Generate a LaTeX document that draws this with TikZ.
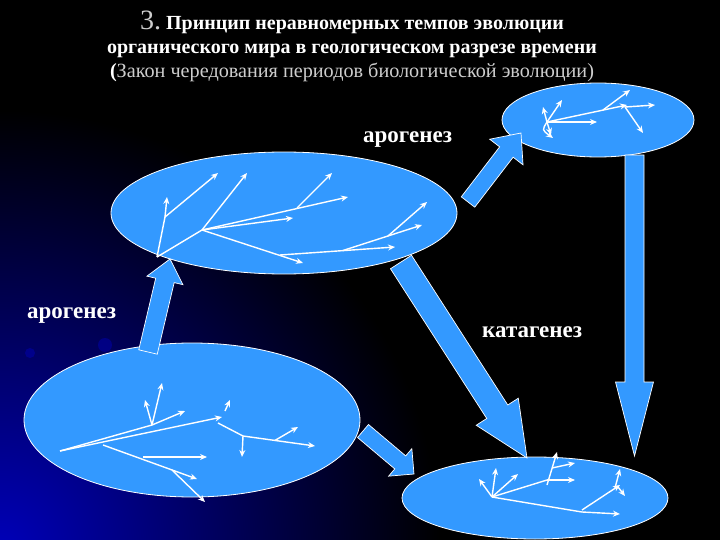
\documentclass[tikz,border=0pt]{standalone}
\usepackage{fontspec}
\setmainfont{Liberation Serif}
\usetikzlibrary{calc,arrows.meta,shapes.geometric}
\definecolor{ellblue}{RGB}{51,153,255}
\definecolor{glowblue}{RGB}{0,0,185}
\definecolor{txtgray}{RGB}{205,205,205}
\newcommand\blockarr[5]{% start, end, shaft half width, head half width, head length
  \coordinate (H) at ($(#2)!#5!(#1)$);
  \draw[bigarrow] ($(#1)!#3!90:(#2)$) -- ($(H)!#3!90:(#2)$) -- ($(H)!#4!90:(#2)$) -- (#2)
     -- ($(H)!#4!-90:(#2)$) -- ($(H)!#3!-90:(#2)$) -- ($(#1)!#3!-90:(#2)$) -- cycle;
}
\begin{document}
\begin{tikzpicture}[x=1pt,y=-1pt,
  ell/.style={ellipse, draw=white, line width=0.8pt, fill=ellblue, inner sep=0pt},
  bigarrow/.style={fill=ellblue, draw=white, line width=0.7pt, line join=miter},
  sm/.style={white, line width=1.4pt, -{Stealth[length=7pt,width=6pt]}},
  ln/.style={white, line width=1.4pt},
  lbl/.style={text=white, font=\fontsize{23}{25}\selectfont\bfseries, anchor=base west, inner sep=0pt}]
\fill[black] (0,0) rectangle (720,540);
\useasboundingbox (0,0) rectangle (720,540);
\begin{scope}
  \clip (0,0) rectangle (720,540);
  \shade[inner color=glowblue, outer color=black] (0,550) circle (440);
  \fill[glowblue, opacity=0.45] (30,353) circle (5);
  \fill[glowblue, opacity=0.45] (105,345) circle (7);
\end{scope}

% title
\node[anchor=base, text=white, inner sep=0pt] (t1) at (352,30)
  {{\color{txtgray}\fontsize{28}{30}\selectfont 3.}\fontsize{20}{22}\selectfont\bfseries\ Принцип неравномерных темпов эволюции};
\node[anchor=base, text=white, inner sep=0pt, font=\fontsize{20}{22}\selectfont\bfseries] (t2) at (352,54)
  {органического мира в геологическом разрезе времени};
\node[anchor=base, text=txtgray, inner sep=0pt, font=\fontsize{20.2}{22}\selectfont] (t3) at (352,78)
  {{\color{white}\bfseries(}Закон чередования периодов биологической эволюции)};

% ellipses
\node[ell, minimum width=192pt, minimum height=74pt] (e1) at (598,120) {};
\node[ell, minimum width=346pt, minimum height=122pt] (e2) at (284,213) {};
\node[ell, minimum width=336pt, minimum height=154pt] (e3) at (192,420) {};
\node[ell, minimum width=266pt, minimum height=82pt] (e4) at (535,498) {};

% labels
\node[lbl] (l1) at (363,143) {арогенез};
\node[lbl] (l2) at (27,318) {арогенез};
\node[lbl] (l3) at (482,337) {катагенез};

% big arrows
\coordinate (aS) at (148,352); \coordinate (aE) at (170,259);
\coordinate (bS) at (468,202); \coordinate (bE) at (521,133);
\coordinate (cS) at (401,262); \coordinate (cE) at (527,458);
\coordinate (dS) at (634.5,155); \coordinate (dE) at (634.5,456);
\coordinate (fS) at (363,431); \coordinate (fE) at (414,474);
\blockarr{aS}{aE}{9.5pt}{18.5pt}{22pt}
\blockarr{bS}{bE}{8.5pt}{21pt}{24pt}
\blockarr{cS}{cE}{12.5pt}{25pt}{55pt}
\blockarr{dS}{dE}{9.5pt}{19pt}{74pt}
\blockarr{fS}{fE}{8.5pt}{18pt}{18pt}

% small arrows: top-right ellipse
\draw[sm] (547,122) -- (597,122);
\draw[sm] (547,122) -- (627,105);
\draw[sm] (625,107) -- (655,105);
\draw[sm] (625,107) -- (643,133);
\draw[sm] (603,110) -- (630,90);
\draw[sm] (547,122) -- (562,100);
\draw[sm] (547,122) -- (543,107);
\draw[sm] (547,122) .. controls (542,130) .. (553,138);
\draw[sm] (547,122) -- (551,135);

% middle ellipse
\draw[ln] (157,257) -- (165,217);
\draw[sm] (165,217) -- (167,197);
\draw[sm] (165,217) -- (218,173);
\draw[ln] (157,257) -- (202,230);
\draw[sm] (202,230) -- (247,173);
\draw[sm] (202,230) -- (293,218);
\draw[sm] (202,230) -- (348,197);
\draw[sm] (297,208) -- (332,173);
\draw[sm] (202,230) -- (303,263);
\draw[sm] (280,255) -- (395,247);
\draw[sm] (343,250.5) -- (422,225);
\draw[sm] (388,236) -- (427,202);

% bottom-left ellipse
\draw[ln] (60,451) -- (152,425);
\draw[sm] (152,425) -- (162,383);
\draw[sm] (152,425) -- (145,400);
\draw[sm] (152,425) -- (185,411);
\draw[sm] (60,451) -- (222,417);
\draw[sm] (225,411) -- (230,400);
\draw[ln] (218,423) -- (243,436);
\draw[sm] (243,436) -- (242,457);
\draw[sm] (243,436) -- (315,446);
\draw[sm] (275,440.4) -- (298,427);
\draw[sm] (103,445) -- (197,479);
\draw[sm] (172,470) -- (205,502);
\draw[sm] (143,457) -- (207,457);

% bottom-right ellipse
\draw[sm] (492,497) -- (479,479);
\draw[sm] (492,497) -- (496,468);
\draw[sm] (492,497) -- (518,474);
\draw[ln] (492,497) -- (547,480);
\draw[sm] (547,480) -- (575,480);
\draw[sm] (547,485) -- (557,452);
\draw[sm] (552,468) -- (575,463);
\draw[ln] (492,497) -- (582,512);
\draw[sm] (582,512) -- (620,514);
\draw[sm] (582,510) -- (620,485);
\draw[sm] (615,488) -- (620,469);
\draw[sm] (618,487) -- (625,496);
\end{tikzpicture}
\end{document}
